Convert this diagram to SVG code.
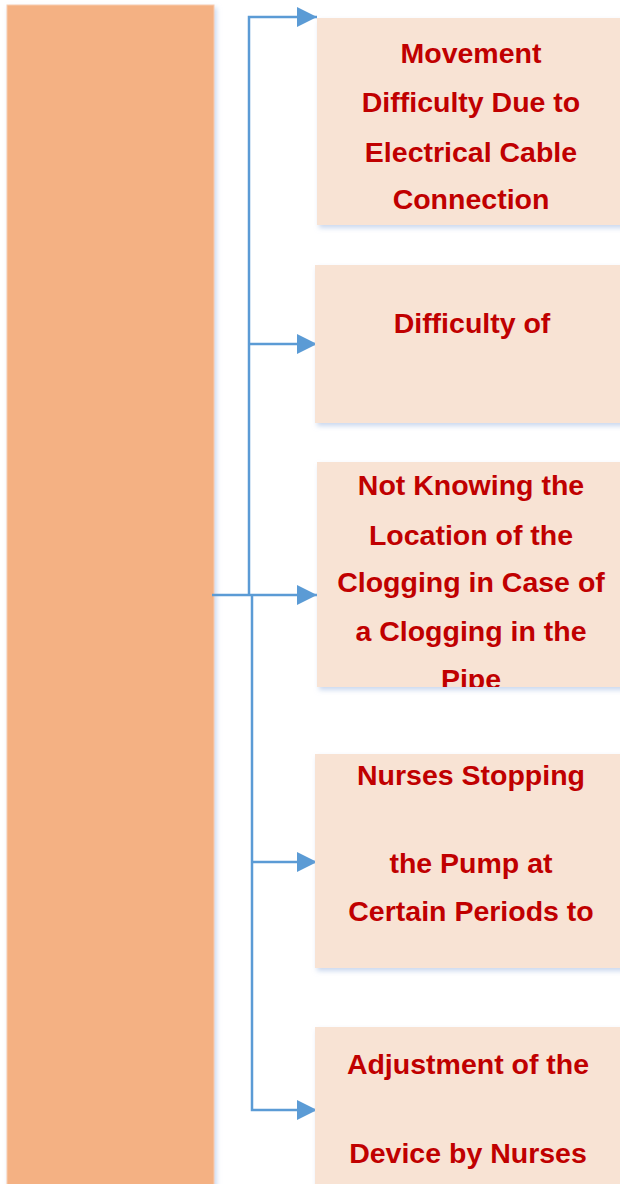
<svg xmlns="http://www.w3.org/2000/svg" width="620" height="1184" viewBox="0 0 620 1184">
  <style>
    .box { fill: #F8E3D4; filter: url(#shadow); }
    .main { fill: #F4B183; stroke: #F8CDB0; stroke-width: 1; filter: url(#shadow); }
    .lbl { font-family: "Liberation Sans", Arial, sans-serif; font-weight: bold; font-size: 28.5px; fill: #C00000; text-anchor: middle; }
    .conn { fill: none; stroke: #5B9BD5; stroke-width: 2.5; }
  </style>
  <defs>
    <filter id="shadow" x="-10%" y="-10%" width="130%" height="130%">
      <feDropShadow dx="2" dy="3" stdDeviation="2.5" flood-color="#B4C7E7" flood-opacity="0.7"/>
    </filter>
    <marker id="arrow" markerWidth="8" markerHeight="8" refX="8" refY="4" orient="auto" markerUnits="strokeWidth">
      <path d="M0,0 L8,4 L0,8 Z" fill="#5B9BD5"/>
    </marker>
    <clipPath id="clip3"><rect x="317" y="462" width="303" height="225"/></clipPath>
  </defs>

  <rect id="main" class="main" x="7" y="5" width="207" height="1185"/>

  <g id="connectors">
    <path class="conn" d="M212,595 L252,595"/>
    <path class="conn" d="M249,595 L249,17 L317,17" marker-end="url(#arrow)"/>
    <path class="conn" d="M249,344 L317,344" marker-end="url(#arrow)"/>
    <path class="conn" d="M252,595 L317,595" marker-end="url(#arrow)"/>
    <path class="conn" d="M252,595 L252,1110 L317,1110" marker-end="url(#arrow)"/>
    <path class="conn" d="M252,862 L317,862" marker-end="url(#arrow)"/>
  </g>

  <g id="node1">
    <rect class="box" x="317" y="18" width="310" height="207"/>
    <text class="lbl" x="471" y="63">Movement</text>
    <text class="lbl" x="471" y="112">Difficulty Due to</text>
    <text class="lbl" x="471" y="162">Electrical Cable</text>
    <text class="lbl" x="471" y="209">Connection</text>
  </g>

  <g id="node2">
    <rect class="box" x="315" y="265" width="312" height="158"/>
    <text class="lbl" x="472" y="333">Difficulty of</text>
  </g>

  <g id="node3">
    <rect class="box" x="317" y="462" width="310" height="225"/>
    <g clip-path="url(#clip3)">
      <text class="lbl" x="471" y="495">Not Knowing the</text>
      <text class="lbl" x="471" y="545">Location of the</text>
      <text class="lbl" x="471" y="592">Clogging in Case of</text>
      <text class="lbl" x="471" y="641">a Clogging in the</text>
      <text class="lbl" x="471" y="689">Pipe</text>
    </g>
  </g>

  <g id="node4">
    <rect class="box" x="315" y="754" width="312" height="214"/>
    <text class="lbl" x="471" y="785">Nurses Stopping</text>
    <text class="lbl" x="471" y="873">the Pump at</text>
    <text class="lbl" x="471" y="921">Certain Periods to</text>
  </g>

  <g id="node5">
    <rect class="box" x="315" y="1027" width="312" height="170"/>
    <text class="lbl" x="468" y="1074">Adjustment of the</text>
    <text class="lbl" x="468" y="1163">Device by Nurses</text>
  </g>
</svg>
